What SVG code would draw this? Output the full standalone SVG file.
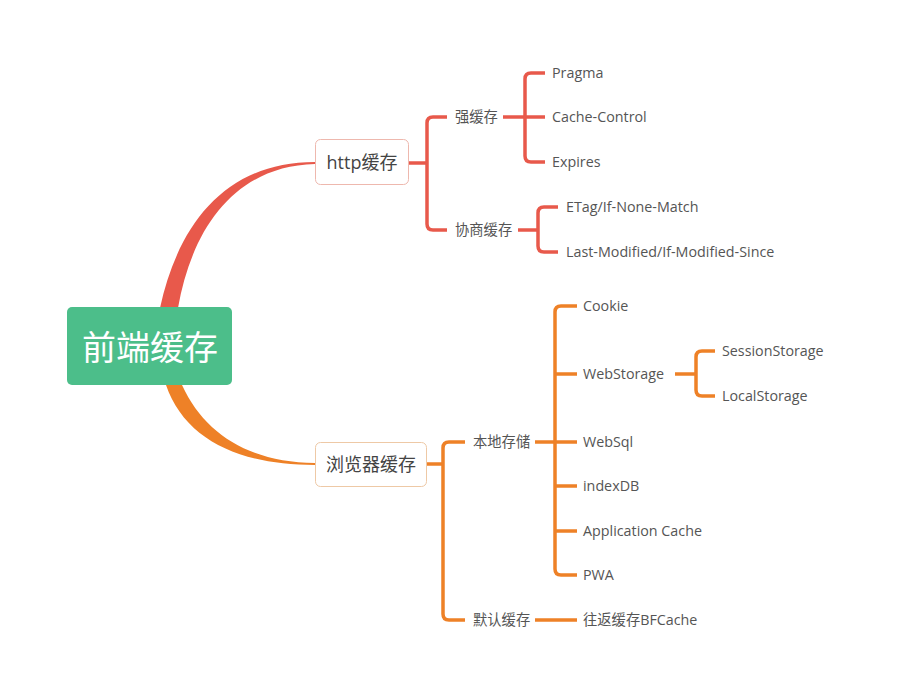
<svg xmlns="http://www.w3.org/2000/svg" width="903" height="675" viewBox="0 0 903 675">
<style>
.t{font-family:"Open Sans","Noto Sans CJK SC",sans-serif;font-size:14.3px;fill:#555;dominant-baseline:central}
.m{font-family:"Open Sans","Noto Sans CJK SC",sans-serif;font-size:18px;fill:#444;text-anchor:middle;dominant-baseline:central}
.r{fill:none;stroke:#e8594b;stroke-width:3.5;stroke-linejoin:round;stroke-linecap:butt}
.o{fill:none;stroke:#ee8127;stroke-width:3.5;stroke-linejoin:round;stroke-linecap:butt}
</style>
<rect width="903" height="675" fill="#fff"/>
<g id="connectors">
<path d="M160,308 C178,225 225,162 315,162 L315,164 C235,166 192,228 178,308 Z" fill="#e8594b"/>
<path d="M166,385 C185,440 240,465 315,465 L315,463 C250,462 205,435 182,385 Z" fill="#ee8127"/>
<path class="r" d="M408,163 H427"/>
<path class="r" d="M447,117 H433 Q427,117 427,123 V224 Q427,230 433,230 H447"/>
<path class="r" d="M503,117 H545"/>
<path class="r" d="M545,73 H531 Q525,73 525,79 V156 Q525,162 531,162 H545"/>
<path class="r" d="M518,230 H538"/>
<path class="r" d="M558,207 H544 Q538,207 538,213 V246 Q538,252 544,252 H558"/>
<path class="o" d="M426,464 H443"/>
<path class="o" d="M465,442 H449 Q443,442 443,448 V614 Q443,620 449,620 H465"/>
<path class="o" d="M535,442 H577"/>
<path class="o" d="M577,306 H561 Q555,306 555,312 V569 Q555,575 561,575 H577"/>
<path class="o" d="M555,374 H577 M555,486 H577 M555,531 H577"/>
<path class="o" d="M675,374 H696"/>
<path class="o" d="M715,351 H702 Q696,351 696,357 V390 Q696,396 702,396 H715"/>
<path class="o" d="M535,620 H577"/>
</g>
<g id="root">
<rect x="67" y="307" width="165" height="78" rx="5" fill="#4cbe8a"/>
<text x="150" y="347" font-family="'Open Sans','Noto Sans CJK SC',sans-serif" font-size="34" fill="#fff" text-anchor="middle" dominant-baseline="central">前端缓存</text>
</g>
<g id="http">
<rect x="315.5" y="139.5" width="93" height="45" rx="5" fill="#fff" stroke="#eeb8ae"/>
<text class="m" x="362" y="162">http缓存</text>
</g>
<g id="browser">
<rect x="315.5" y="442.5" width="111" height="44" rx="5" fill="#fff" stroke="#eec9a6"/>
<text class="m" x="371" y="464">浏览器缓存</text>
</g>
<g id="strong"><text class="t" x="455" y="116">强缓存</text></g>
<g id="nego"><text class="t" x="455" y="229">协商缓存</text></g>
<g id="pragma"><text class="t" x="552" y="72">Pragma</text></g>
<g id="cachecontrol"><text class="t" x="552" y="116">Cache-Control</text></g>
<g id="expires"><text class="t" x="552" y="161">Expires</text></g>
<g id="etag"><text class="t" x="566" y="206">ETag/If-None-Match</text></g>
<g id="lastmod"><text class="t" x="566" y="251">Last-Modified/If-Modified-Since</text></g>
<g id="local"><text class="t" x="473" y="441">本地存储</text></g>
<g id="default"><text class="t" x="473" y="619">默认缓存</text></g>
<g id="cookie"><text class="t" x="583" y="305">Cookie</text></g>
<g id="webstorage"><text class="t" x="583" y="373">WebStorage</text></g>
<g id="websql"><text class="t" x="583" y="441">WebSql</text></g>
<g id="indexdb"><text class="t" x="583" y="485">indexDB</text></g>
<g id="appcache"><text class="t" x="583" y="530">Application Cache</text></g>
<g id="pwa"><text class="t" x="583" y="574">PWA</text></g>
<g id="session"><text class="t" x="722" y="350">SessionStorage</text></g>
<g id="localstorage"><text class="t" x="722" y="395">LocalStorage</text></g>
<g id="bfcache"><text class="t" x="583" y="619">往返缓存BFCache</text></g>
</svg>
